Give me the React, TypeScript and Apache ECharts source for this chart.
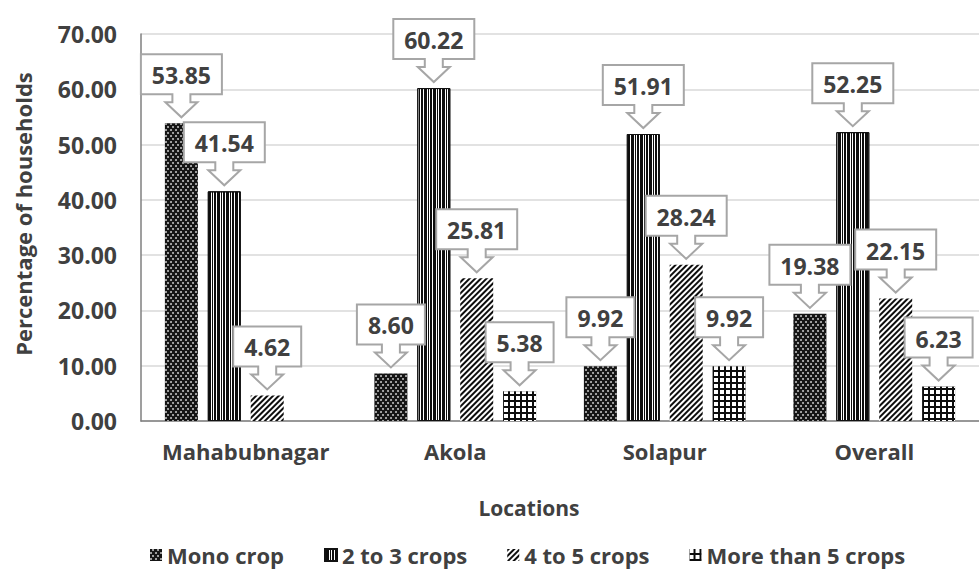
import React, { useEffect, useRef } from "react";
import * as echarts from "echarts";

const categories = ["Mahabubnagar", "Akola", "Solapur", "Overall"];
const seriesNames = ["Mono crop", "2 to 3 crops", "4 to 5 crops", "More than 5 crops"];
const monoCrop = [53.85, 8.6, 9.92, 19.38];
const twoToThreeCrops = [41.54, 60.22, 51.91, 52.25];
const fourToFiveCrops = [4.62, 25.81, 28.24, 22.15];
const moreThanFiveCrops: (number | null)[] = [null, 5.38, 9.92, 6.23];
const yMin = 0;
const yMax = 70;
const yInterval = 10;

const BAR_W = 33;
const BAR_GAP = 0.3;
const TEXT = "#404040";
const FONT = '"Open Sans", "Noto Sans", sans-serif';

const decals: any[] = [
  {
    symbol: "circle",
    symbolSize: 0.85,
    color: "#dcdcdc",
    dashArrayX: [[2, 3], [0, 2, 2, 1]],
    dashArrayY: [2, 1],
  },
  {
    symbol: "rect",
    symbolSize: 1,
    color: "#0d0d0d",
    dashArrayX: [1, 0],
    dashArrayY: [2, 1, 1, 1, 3, 1],
    rotation: Math.PI / 2,
  },
  {
    symbol: "rect",
    symbolSize: 1,
    color: "#0d0d0d",
    dashArrayX: [1, 0],
    dashArrayY: [2, 2],
    rotation: -Math.PI / 4,
  },
  {
    symbol: "rect",
    symbolSize: 1,
    color: "#ffffff",
    dashArrayX: [4, 2],
    dashArrayY: [4, 2],
  },
];
const barColors = ["#151515", "#ffffff", "#ffffff", "#0d0d0d"];

let measureCtx: CanvasRenderingContext2D | null = null;
function measure(text: string, font: string): number {
  if (!measureCtx) {
    measureCtx = document.createElement("canvas").getContext("2d");
  }
  if (!measureCtx) return text.length * 12;
  measureCtx.font = font;
  return measureCtx.measureText(text).width;
}

export default function App() {
  const ref = useRef<HTMLDivElement>(null);

  useEffect(() => {
    document.body.style.margin = "0";
    if (!ref.current) return;
    const chart = echarts.init(ref.current, null, { renderer: "svg" });
    const allSeries = [monoCrop, twoToThreeCrops, fourToFiveCrops, moreThanFiveCrops];

    const calloutData: number[][] = [];
    allSeries.forEach((arr, s) => {
      arr.forEach((v, c) => {
        if (v !== null && v !== undefined) calloutData.push([c, v as number, s]);
      });
    });

    const labelFont = `bold 23px ${FONT}`;

    const barSeries = allSeries.map((arr, i) => ({
      name: seriesNames[i],
      type: "bar",
      data: arr,
      barWidth: BAR_W,
      barGap: `${BAR_GAP * 100}%`,
      itemStyle: {
        color: barColors[i],
        decal: decals[i],
        borderColor: i === 1 ? "#111111" : undefined,
        borderWidth: i === 1 ? 1 : 0,
      },
      z: 2,
    }));

    const n = allSeries.length;

    chart.setOption({
      animation: false,
      backgroundColor: "#ffffff",
      grid: { left: 141, right: -11, top: 34, bottom: 154 },
      legend: {
        data: seriesNames,
        left: 150,
        top: 544,
        padding: 0,
        itemWidth: 12,
        itemHeight: 12,
        itemGap: 40,
        icon: "rect",
        textStyle: { fontSize: 22, fontWeight: "bold", color: TEXT, fontFamily: FONT },
      },
      xAxis: {
        type: "category",
        data: categories,
        axisTick: { show: false },
        axisLine: { lineStyle: { color: "#7f7f7f", width: 1.5 } },
        axisLabel: {
          interval: 0,
          fontSize: 22,
          fontWeight: "bold",
          color: TEXT,
          fontFamily: FONT,
          margin: 19,
        },
      },
      yAxis: {
        type: "value",
        min: yMin,
        max: yMax,
        interval: yInterval,
        axisLine: { show: true, lineStyle: { color: "#7f7f7f", width: 1.5 } },
        axisTick: { show: false },
        splitLine: { lineStyle: { color: "#d9d9d9", width: 1.5 } },
        axisLabel: {
          fontSize: 23,
          fontWeight: "bold",
          color: TEXT,
          fontFamily: FONT,
          margin: 24,
          formatter: (v: number) => v.toFixed(2),
        },
      },
      graphic: [
        {
          type: "text",
          x: 23,
          y: 214,
          rotation: Math.PI / 2,
          style: {
            text: "Percentage of households",
            fontSize: 22,
            fontWeight: "bold",
            fontFamily: FONT,
            fill: TEXT,
            align: "center",
            verticalAlign: "middle",
          },
        },
        {
          type: "text",
          x: 529,
          y: 508,
          style: {
            text: "Locations",
            fontSize: 21,
            fontWeight: "bold",
            fontFamily: FONT,
            fill: TEXT,
            align: "center",
            verticalAlign: "middle",
          },
        },
      ],
      series: [
        ...barSeries,
        {
          name: "callouts",
          type: "custom",
          coordinateSystem: "cartesian2d",
          data: calloutData,
          encode: { x: 0, y: 1 },
          clip: false,
          z: 10,
          silent: true,
          renderItem: (params: any, api: any) => {
            const c = api.value(0);
            const v = api.value(1);
            const s = api.value(2);
            const pt = api.coord([c, v]);
            const step = BAR_W * (1 + BAR_GAP);
            const cx = pt[0] + (s - (n - 1) / 2) * step;
            const tip = pt[1] - 6;
            const label = (v as number).toFixed(2);
            const tw = measure(label, labelFont);
            const w = Math.round(tw + 22);
            const h = 40;
            const headH = 15;
            const stemH = 8;
            const stemHW = 9;
            const headHW = 16;
            const y1 = tip - headH - stemH;
            const y0 = y1 - h;
            const x0 = cx - w / 2;
            const x1 = cx + w / 2;
            const points = [
              [x0, y0],
              [x1, y0],
              [x1, y1],
              [cx + stemHW, y1],
              [cx + stemHW, y1 + stemH],
              [cx + headHW, y1 + stemH],
              [cx, tip],
              [cx - headHW, y1 + stemH],
              [cx - stemHW, y1 + stemH],
              [cx - stemHW, y1],
              [x0, y1],
            ];
            return {
              type: "group",
              children: [
                {
                  type: "polygon",
                  shape: { points },
                  style: { fill: "#ffffff", stroke: "#a6a6a6", lineWidth: 2 },
                },
                {
                  type: "text",
                  style: {
                    text: label,
                    x: cx,
                    y: (y0 + y1) / 2 + 1,
                    align: "center",
                    verticalAlign: "middle",
                    fontSize: 23,
                    fontWeight: "bold",
                    fontFamily: FONT,
                    fill: TEXT,
                  },
                },
              ],
            };
          },
        },
      ],
    });

    return () => {
      chart.dispose();
    };
  }, []);

  return <div ref={ref} style={{ width: 979, height: 575 }} />;
}
